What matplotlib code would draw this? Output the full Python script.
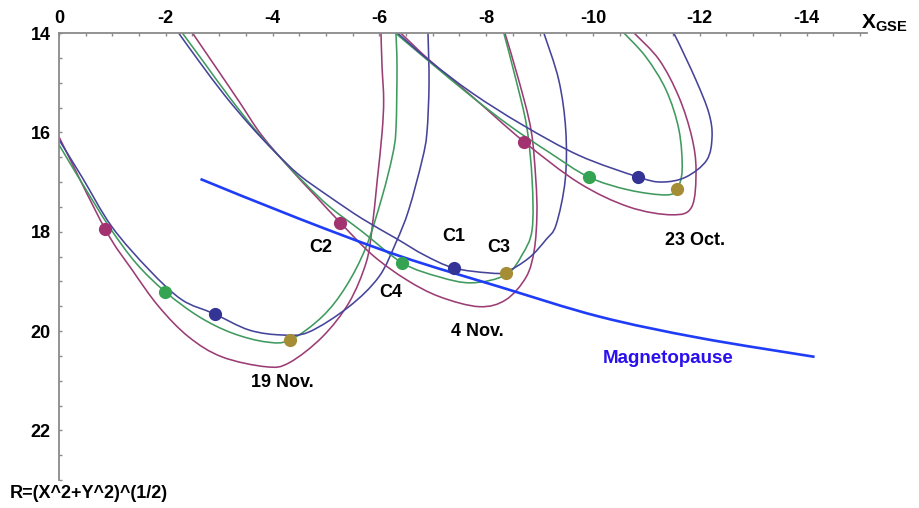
import numpy as np
import matplotlib
matplotlib.use("Agg")
import matplotlib.pyplot as plt
from matplotlib.path import Path
from matplotlib.patches import PathPatch
from matplotlib.ticker import MultipleLocator

plt.rcParams['font.family'] = ['Liberation Sans', 'DejaVu Sans']
plt.rcParams['axes.unicode_minus'] = False
plt.rcParams['mathtext.fontset'] = 'custom'
plt.rcParams['mathtext.bf'] = 'Liberation Sans:bold'
plt.rcParams['mathtext.rm'] = 'Liberation Sans'

# ---- Cluster orbit tracks in (X_GSE, R) for the three passes ----
# 19 November
nov19_c2_x = [0.0, -0.86, -1.37, -1.87, -2.43, -3.05, -3.88, -4.31, -4.93, -5.43, -5.75, -5.86, -5.96, -6.05, -6.08, -6.05, -6.03]
nov19_c2_r = [16.09, 17.94, 18.77, 19.51, 20.12, 20.52, 20.72, 20.64, 20.12, 19.43, 18.63, 17.96, 16.96, 16.01, 15.35, 14.68, 14.0]
nov19_c4_x = [0.0, -0.43, -0.94, -1.44, -1.99, -2.62, -3.24, -3.88, -4.33, -4.93, -5.37, -5.75, -6.05, -6.24, -6.31, -6.33, -6.31]
nov19_c4_r = [16.25, 17.02, 17.90, 18.63, 19.21, 19.71, 20.04, 20.22, 20.18, 19.71, 19.11, 18.31, 17.30, 16.49, 15.95, 14.68, 14.0]
nov19_c1_x = [0.0, -0.43, -0.99, -1.69, -2.30, -2.90, -3.56, -4.18, -4.68, -5.43, -5.99, -6.31, -6.55, -6.80, -6.89, -6.93, -6.91]
nov19_c1_r = [16.15, 16.90, 17.90, 18.77, 19.37, 19.65, 19.98, 20.08, 20.02, 19.51, 18.91, 18.22, 17.56, 16.56, 16.01, 15.01, 14.0]

# 4 November
nov4_c2_x = [-2.50, -2.97, -3.38, -3.79, -4.32, -4.82, -5.27, -5.87, -6.51, -7.13, -7.87, -8.37, -8.75, -8.90, -8.95, -8.93, -8.84, -8.61, -8.35]
nov4_c2_r = [14.0, 14.74, 15.39, 16.05, 16.72, 17.30, 17.82, 18.47, 18.97, 19.31, 19.51, 19.37, 18.91, 18.37, 17.66, 16.96, 15.95, 14.95, 14.0]
nov4_c4_x = [-2.31, -2.72, -3.19, -3.66, -4.13, -4.60, -5.07, -5.68, -6.43, -7.12, -7.73, -8.37, -8.67, -8.86, -8.86, -8.76, -8.56, -8.33]
nov4_c4_r = [14.0, 14.60, 15.29, 15.93, 16.49, 17.02, 17.50, 18.00, 18.63, 18.91, 19.03, 18.87, 18.47, 17.96, 16.96, 15.89, 14.95, 14.0]
nov4_c1_x = [-2.24, -2.63, -3.10, -3.57, -4.04, -4.50, -5.07, -5.68, -6.32, -6.84, -7.39, -8.05, -8.37, -8.80, -9.12, -9.31, -9.48, -9.49, -9.36, -9.08]
nov4_c1_r = [14.0, 14.58, 15.25, 15.85, 16.39, 16.86, 17.30, 17.74, 18.14, 18.47, 18.73, 18.83, 18.81, 18.53, 18.16, 17.86, 16.96, 15.95, 14.95, 14.0]

# 23 October
oct23_c2_x = [-6.40, -6.93, -7.73, -8.71, -9.74, -10.67, -11.48, -11.85, -11.93, -11.85, -11.61, -11.24, -10.77]
oct23_c2_r = [14.0, 14.54, 15.27, 16.19, 17.02, 17.50, 17.66, 17.50, 16.76, 16.09, 15.29, 14.54, 14.0]
oct23_c4_x = [-6.30, -6.94, -7.74, -8.47, -9.19, -9.92, -10.67, -11.37, -11.57, -11.67, -11.61, -11.37, -10.99, -10.58]
oct23_c4_r = [14.0, 14.58, 15.29, 15.89, 16.41, 16.90, 17.16, 17.26, 17.14, 16.76, 15.95, 15.15, 14.48, 14.0]
oct23_c1_x = [-6.34, -6.94, -7.74, -8.68, -9.75, -10.85, -11.29, -11.74, -12.13, -12.23, -12.17, -11.93, -11.55, -11.48]
oct23_c1_r = [14.0, 14.56, 15.21, 15.85, 16.47, 16.90, 17.00, 16.90, 16.56, 16.09, 15.61, 14.95, 14.08, 14.0]

# spacecraft positions marked on each pass: [19 Nov, 4 Nov, 23 Oct]
c1_pos_x = [-2.92, -7.39, -10.85]
c1_pos_r = [19.65, 18.73, 16.90]
c2_pos_x = [-0.86, -5.27, -8.71]
c2_pos_r = [17.94, 17.82, 16.19]
c3_pos_x = [-4.33, -8.37, -11.57]
c3_pos_r = [20.18, 18.83, 17.14]
c4_pos_x = [-1.99, -6.43, -9.92]
c4_pos_r = [19.21, 18.63, 16.90]

# model magnetopause
mp_x = [-2.65, -4.50, -6.38, -8.25, -10.12, -12.00, -14.15]
mp_r = [16.94, 17.74, 18.49, 19.11, 19.71, 20.14, 20.52]

# text annotations
sc_labels = ["C1", "C2", "C3", "C4"]
sc_label_x = [-7.40, -4.91, -8.24, -6.22]
sc_label_r = [18.10, 18.31, 18.31, 19.23]
pass_labels = ["19 Nov.", "4 Nov.", "23 Oct."]
pass_label_x = [-4.19, -7.83, -11.91]
pass_label_r = [21.04, 20.00, 18.17]

x_ticks = [0, -2, -4, -6, -8, -10, -12, -14]
r_ticks = [14, 16, 18, 20, 22]

COL_C1 = '#45449a'
COL_C2 = '#9b3d74'
COL_C4 = '#3f9a5e'
DOT_C1 = '#343496'
DOT_C2 = '#a23370'
DOT_C3 = '#a58d35'
DOT_C4 = '#34a352'


def smooth_path(xs, ys):
    """Cubic Bezier path through every listed point (Catmull-Rom tangents)."""
    p = np.column_stack([xs, ys]).astype(float)
    ext = np.vstack([p[0], p, p[-1]])
    verts = [p[0]]
    codes = [Path.MOVETO]
    for i in range(len(p) - 1):
        a, b, c, d = ext[i], ext[i + 1], ext[i + 2], ext[i + 3]
        verts += [b + (c - a) / 6.0, c - (d - b) / 6.0, c]
        codes += [Path.CURVE4] * 3
    return Path(verts, codes)


fig = plt.figure(figsize=(9.19, 5.08), dpi=100)
ax = fig.add_axes([0.0642, 0.0551, 0.8791, 0.8799])
ax.set_xlim(0, -15.13)
ax.set_ylim(23.0, 14.0)

tracks = [
    (nov19_c2_x, nov19_c2_r, COL_C2), (nov19_c4_x, nov19_c4_r, COL_C4), (nov19_c1_x, nov19_c1_r, COL_C1),
    (nov4_c2_x, nov4_c2_r, COL_C2), (nov4_c4_x, nov4_c4_r, COL_C4), (nov4_c1_x, nov4_c1_r, COL_C1),
    (oct23_c2_x, oct23_c2_r, COL_C2), (oct23_c4_x, oct23_c4_r, COL_C4), (oct23_c1_x, oct23_c1_r, COL_C1),
]
for xs, rs, col in tracks:
    ax.add_patch(PathPatch(smooth_path(xs, rs), facecolor='none', edgecolor=col,
                           lw=1.15, transform=ax.transData, zorder=2))

ax.add_patch(PathPatch(smooth_path(mp_x, mp_r), facecolor='none', edgecolor='#1f3cf7',
                       lw=1.9, transform=ax.transData, zorder=3))

for px, pr, col in [(c1_pos_x, c1_pos_r, DOT_C1), (c2_pos_x, c2_pos_r, DOT_C2),
                    (c3_pos_x, c3_pos_r, DOT_C3), (c4_pos_x, c4_pos_r, DOT_C4)]:
    ax.plot(px, pr, 'o', ms=9.5, color=col, mec='none', zorder=4)

for t, x, r in zip(sc_labels, sc_label_x, sc_label_r):
    ax.text(x, r, t, ha='center', va='center', fontsize=13, fontweight='bold', zorder=5)
for t, x, r in zip(pass_labels, pass_label_x, pass_label_r):
    ax.text(x, r, t, ha='center', va='center', fontsize=13, fontweight='bold', zorder=5)
ax.text(-11.40, 20.56, "Magnetopause", ha='center', va='center', fontsize=13.5,
        fontweight='bold', color='#2a10ee', zorder=5)

# axes: top and left only
for side in ['bottom', 'right']:
    ax.spines[side].set_visible(False)
for side in ['top', 'left']:
    ax.spines[side].set_color('#8a8a8a')
    ax.spines[side].set_linewidth(1.3)
ax.xaxis.tick_top()
ax.set_xticks(x_ticks)
ax.set_xticklabels([str(v) for v in x_ticks])
ax.set_yticks(r_ticks)
ax.set_yticklabels([str(v) for v in r_ticks])
ax.xaxis.set_minor_locator(MultipleLocator(0.5))
ax.yaxis.set_minor_locator(MultipleLocator(0.5))
ax.tick_params(which='both', direction='in', color='#8a8a8a', width=1.0, length=2.5)
ax.tick_params(axis='x', which='major', labelsize=13, pad=4)
ax.tick_params(axis='y', which='major', labelsize=13, pad=6)
for lab in ax.get_xticklabels() + ax.get_yticklabels():
    lab.set_fontweight('bold')

fig.text(0.9365, 0.955, r'$\mathbf{X}_{\mathbf{GSE}}$', fontsize=15, ha='left', va='center')
fig.text(0.011, 0.029, "R=(X^2+Y^2)^(1/2)", fontsize=13, fontweight='bold', ha='left', va='center')

fig.savefig("out.png", dpi=100)
